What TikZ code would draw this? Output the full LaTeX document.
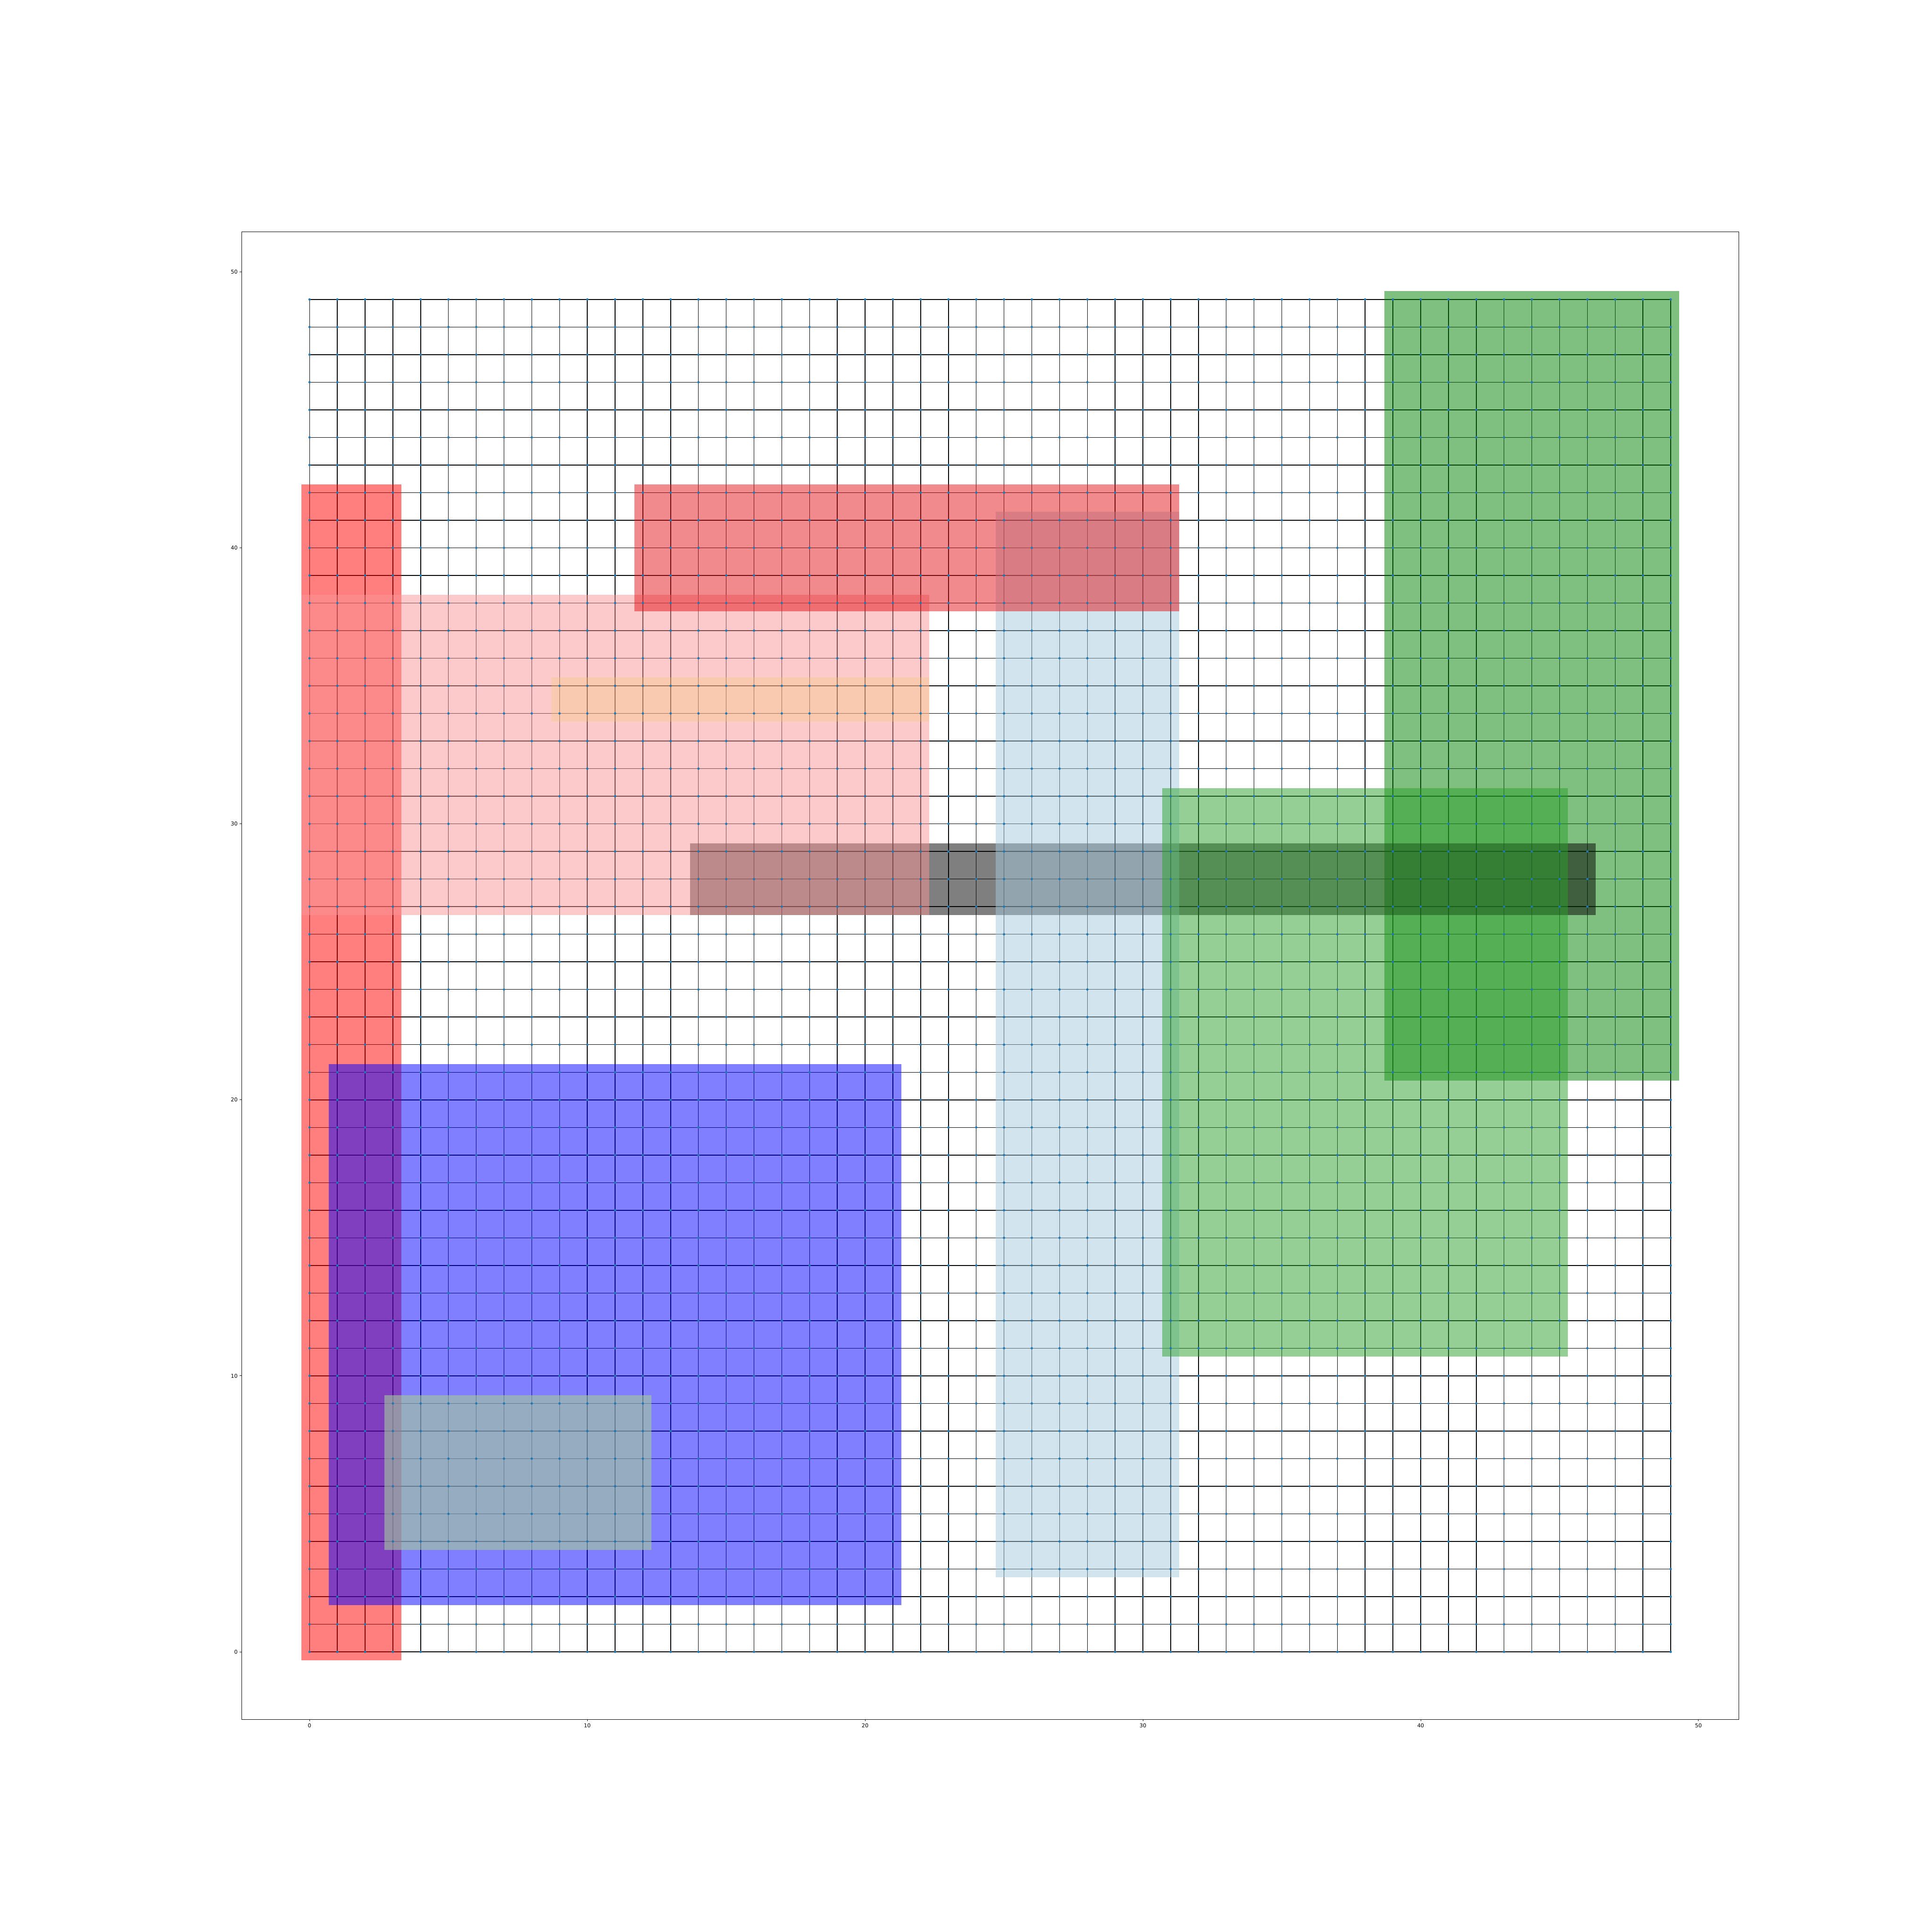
\documentclass[tikz,border=0pt]{standalone}
\usepackage{fontspec}
\setmainfont{DejaVu Sans}
\usepackage{tikz}
\definecolor{dotblue}{RGB}{31,119,180}
\definecolor{pinkfill}{RGB}{249,149,149}
\definecolor{peachfill}{RGB}{245,205,115}
\definecolor{topred}{RGB}{225,21,25}
\definecolor{paleblue}{RGB}{165,203,221}
\definecolor{midgreen}{RGB}{44,160,44}
\definecolor{darkgreen}{RGB}{0,128,0}
\definecolor{sagefill}{RGB}{166,203,152}
\tikzset{
  ticklabel/.style={inner sep=0pt,font=\fontsize{10}{12}\selectfont},
  patch/.style={opacity=0.5}
}

\begin{document}
\begin{tikzpicture}[x=0.71892in,y=0.71429in]
\useasboundingbox (-11.143,-10.15) rectangle (58.406,59.85);
\foreach \i in {0,...,49} {
  \draw[line width=1.3pt] (0,\i) -- (49,\i);
  \draw[line width=1.3pt] (\i,0) -- (\i,49);
}
\fill[red,patch] (-0.3,-0.3) rectangle (3.3,42.3);
\fill[darkgreen,patch] (38.7,20.7) rectangle (49.3,49.3);
\fill[black,patch] (13.7,26.7) rectangle (46.3,29.3);
\fill[pinkfill,patch] (-0.3,26.7) rectangle (22.3,38.3);
\fill[peachfill,opacity=0.3] (8.7,33.7) rectangle (22.3,35.3);
\fill[paleblue,patch] (24.7,2.7) rectangle (31.3,41.3);
\fill[midgreen,patch] (30.7,10.7) rectangle (45.3,31.3);
\fill[topred,patch] (11.7,37.7) rectangle (31.3,42.3);
\fill[blue,patch] (0.7,1.7) rectangle (21.3,21.3);
\fill[sagefill,opacity=0.6] (2.7,3.7) rectangle (12.3,9.3);
\foreach \i in {0,...,49}
  \foreach \j in {0,...,49}
    \fill[dotblue] (\i,\j) circle (2.2pt);
\draw[line width=0.8pt] (-2.45,-2.45) rectangle (51.45,51.45);
\foreach \t in {0,10,...,50} {
  \draw[line width=0.8pt] (\t,-2.45) -- ++(0,-3.5pt) coordinate (xe\t);
  \node[ticklabel,anchor=north] (xt\t) at ([yshift=-3.5pt]xe\t) {\t};
  \draw[line width=0.8pt] (-2.45,\t) -- ++(-3.5pt,0) coordinate (ye\t);
  \node[ticklabel,anchor=east] (yt\t) at ([xshift=-3.5pt]ye\t) {\t};
}
\end{tikzpicture}
\end{document}
